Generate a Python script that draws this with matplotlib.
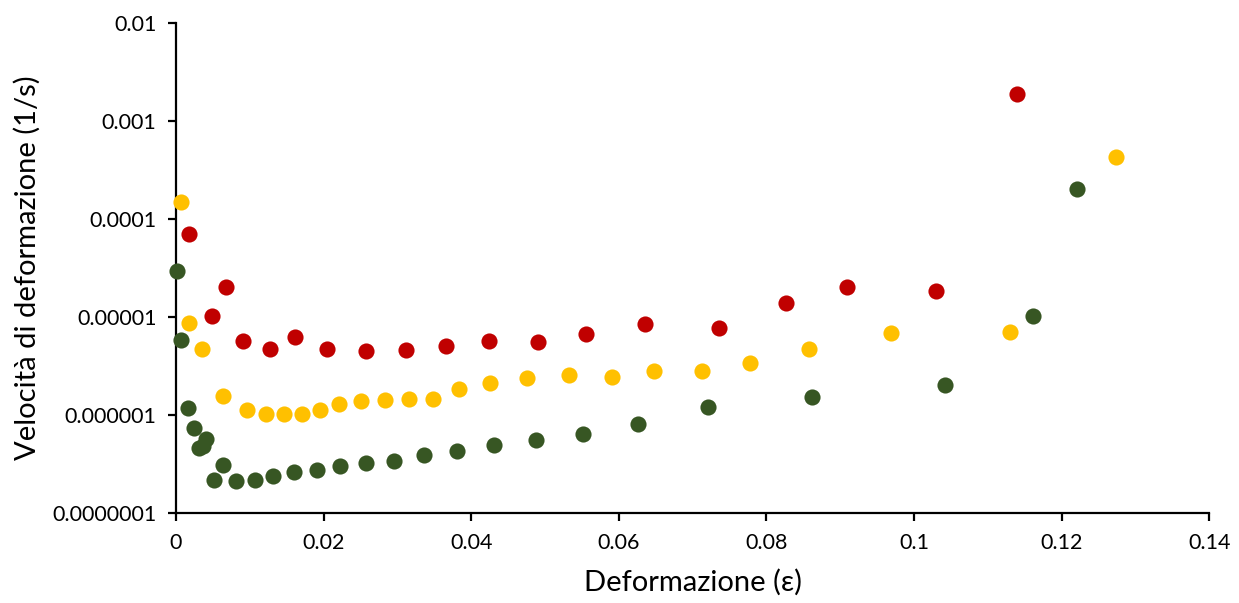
import numpy as np
import matplotlib
matplotlib.use('Agg')
import matplotlib.pyplot as plt
from matplotlib.ticker import FuncFormatter, MultipleLocator, LogLocator, NullLocator

plt.rcParams['font.family'] = ['Lato', 'DejaVu Sans']

# red series
red_x = [0.00176, 0.00484, 0.00678, 0.00912, 0.01274, 0.01613, 0.02051, 0.02579,
         0.03117, 0.03655, 0.04242, 0.04910, 0.05553, 0.06352, 0.07359, 0.08264,
         0.09090, 0.10291, 0.11394]
red_y = [7.08e-5, 1.03e-5, 2.01e-5, 5.65e-6, 4.71e-6, 6.21e-6, 4.71e-6, 4.53e-6,
         4.56e-6, 5.03e-6, 5.65e-6, 5.52e-6, 6.66e-6, 8.48e-6, 7.67e-6, 1.38e-5,
         2.04e-5, 1.85e-5, 1.89e-3]

# yellow series
yel_x = [0.00064, 0.00180, 0.00356, 0.00641, 0.00962, 0.01224, 0.01464, 0.01708,
         0.01952, 0.02213, 0.02507, 0.02829, 0.03158, 0.03487, 0.03835, 0.04260,
         0.04761, 0.05322, 0.05909, 0.06482, 0.07133, 0.07783, 0.08583, 0.09694,
         0.11299, 0.12730]
yel_y = [1.50e-4, 8.75e-6, 4.71e-6, 1.55e-6, 1.13e-6, 1.03e-6, 1.03e-6, 1.03e-6,
         1.12e-6, 1.29e-6, 1.38e-6, 1.42e-6, 1.47e-6, 1.45e-6, 1.84e-6, 2.14e-6,
         2.39e-6, 2.56e-6, 2.44e-6, 2.81e-6, 2.81e-6, 3.40e-6, 4.75e-6, 6.92e-6,
         6.98e-6, 4.30e-4]

# green series
grn_x = [0.00018, 0.00068, 0.00159, 0.00240, 0.00312, 0.00366, 0.00411, 0.00515,
         0.00641, 0.00817, 0.01071, 0.01319, 0.01603, 0.01911, 0.02227, 0.02575,
         0.02955, 0.03357, 0.03804, 0.04314, 0.04879, 0.05520, 0.06266, 0.07214,
         0.08620, 0.10413, 0.11611, 0.12211]
grn_y = [2.92e-5, 5.78e-6, 1.18e-6, 7.41e-7, 4.63e-7, 4.83e-7, 5.73e-7, 2.16e-7,
         3.07e-7, 2.12e-7, 2.19e-7, 2.40e-7, 2.62e-7, 2.76e-7, 3.00e-7, 3.22e-7,
         3.42e-7, 3.91e-7, 4.32e-7, 4.91e-7, 5.52e-7, 6.40e-7, 8.15e-7, 1.21e-6,
         1.54e-6, 2.04e-6, 1.02e-5, 2.04e-4]

fig = plt.figure(figsize=(12.39, 6.03), dpi=100)
ax = fig.add_axes([0.142, 0.149, 0.834, 0.813])

ms = 135
ax.scatter(red_x, red_y, s=ms, color='#C00000', linewidths=0, zorder=3, clip_on=False)
ax.scatter(yel_x, yel_y, s=ms, color='#FFC000', linewidths=0, zorder=3, clip_on=False)
ax.scatter(grn_x, grn_y, s=ms, color='#375623', linewidths=0, zorder=3, clip_on=False)

ax.set_yscale('log')
ax.set_xlim(0, 0.14)
ax.set_ylim(1e-7, 1e-2)
ax.xaxis.set_major_locator(MultipleLocator(0.02))
ax.yaxis.set_major_locator(LogLocator(base=10, numticks=10))
ax.yaxis.set_minor_locator(NullLocator())

fmt = FuncFormatter(lambda v, p: np.format_float_positional(round(v, 8), trim='-'))
ax.xaxis.set_major_formatter(fmt)
ax.yaxis.set_major_formatter(fmt)

for s in ['top', 'right']:
    ax.spines[s].set_visible(False)
for s in ['left', 'bottom']:
    ax.spines[s].set_linewidth(1.6)
    ax.spines[s].set_color('black')
ax.tick_params(axis='both', direction='out', length=6, width=1.6, labelsize=15.5, pad=8)

ax.set_xlabel('Deformazione (ε)', fontsize=21, labelpad=12)
ax.set_ylabel('Velocità di deformazione (1/s)', fontsize=21, labelpad=8)

fig.savefig('out.png', dpi=100)
